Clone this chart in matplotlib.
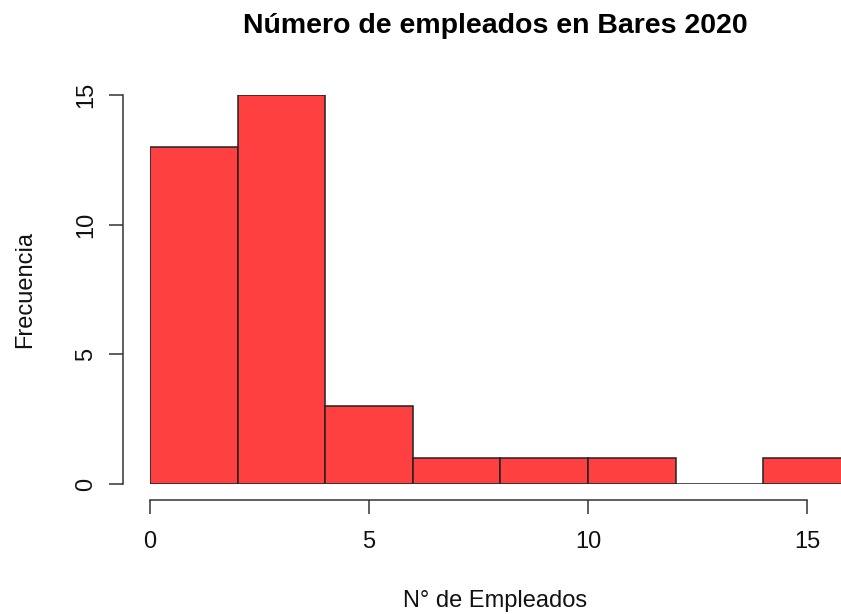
"""Histograma: número de empleados en bares 2020 (estilo R base)."""

import matplotlib
matplotlib.use("Agg")
import matplotlib.pyplot as plt

bin_edges = [0, 2, 4, 6, 8, 10, 12, 14, 16]
counts = [13, 15, 3, 1, 1, 1, 0, 1]
x_ticks = [0, 5, 10, 15]
y_ticks = [0, 5, 10, 15]

TITLE = "Número de empleados en Bares 2020"
XLABEL = "N° de Empleados"
YLABEL = "Frecuencia"

W, H, DPI = 841, 614, 100
plt.rcParams["font.family"] = ["Liberation Sans", "DejaVu Sans"]

fig = plt.figure(figsize=(W / DPI, H / DPI), dpi=DPI)

# plot region in pixels (x=0 at 150px, 43.8 px per unit; y=0 at 484px, y=15 at 95px)
px_per_x = 43.8
left_px, right_px = 150, W
bottom_px, top_px = 484, 95
ax = fig.add_axes([left_px / W, (H - bottom_px) / H,
                   (right_px - left_px) / W, (bottom_px - top_px) / H])
ax.set_xlim(0, (right_px - left_px) / px_per_x)
ax.set_ylim(0, 15)

lefts = bin_edges[:-1]
widths = [b - a for a, b in zip(bin_edges[:-1], bin_edges[1:])]
ax.bar(lefts, counts, width=widths, align="edge", color="#FF4040",
       edgecolor="#222222", linewidth=1.1, clip_on=True)

for s in ("top", "right"):
    ax.spines[s].set_visible(False)
pt = 72 / DPI
ax.spines["left"].set_position(("outward", 27 * pt))
ax.spines["bottom"].set_position(("outward", 16 * pt))
ax.spines["left"].set_bounds(0, 15)
ax.spines["bottom"].set_bounds(0, 15)
for s in ("left", "bottom"):
    ax.spines[s].set_color("#333333")
    ax.spines[s].set_linewidth(1.1)

ax.set_xticks(x_ticks)
ax.set_yticks(y_ticks)
ax.tick_params(axis="both", length=14 * pt, width=1.1, color="#333333",
               labelsize=17, labelcolor="#111111")
ax.tick_params(axis="x", pad=17 * pt)
ax.tick_params(axis="y", pad=12 * pt)
for lab in ax.get_yticklabels():
    lab.set_rotation(90)
    lab.set_va("center")

ax.set_title(TITLE, fontsize=20.5, fontweight="bold", pad=62 * pt)
fig.text((left_px + right_px) / 2 / W, 1 - 601 / H, XLABEL, ha="center",
         va="center", fontsize=17, color="#111111")
fig.text(25 / W, 1 - 290 / H, YLABEL, ha="center", va="center",
         rotation=90, fontsize=17, color="#111111")

fig.savefig("out.png", dpi=DPI)
